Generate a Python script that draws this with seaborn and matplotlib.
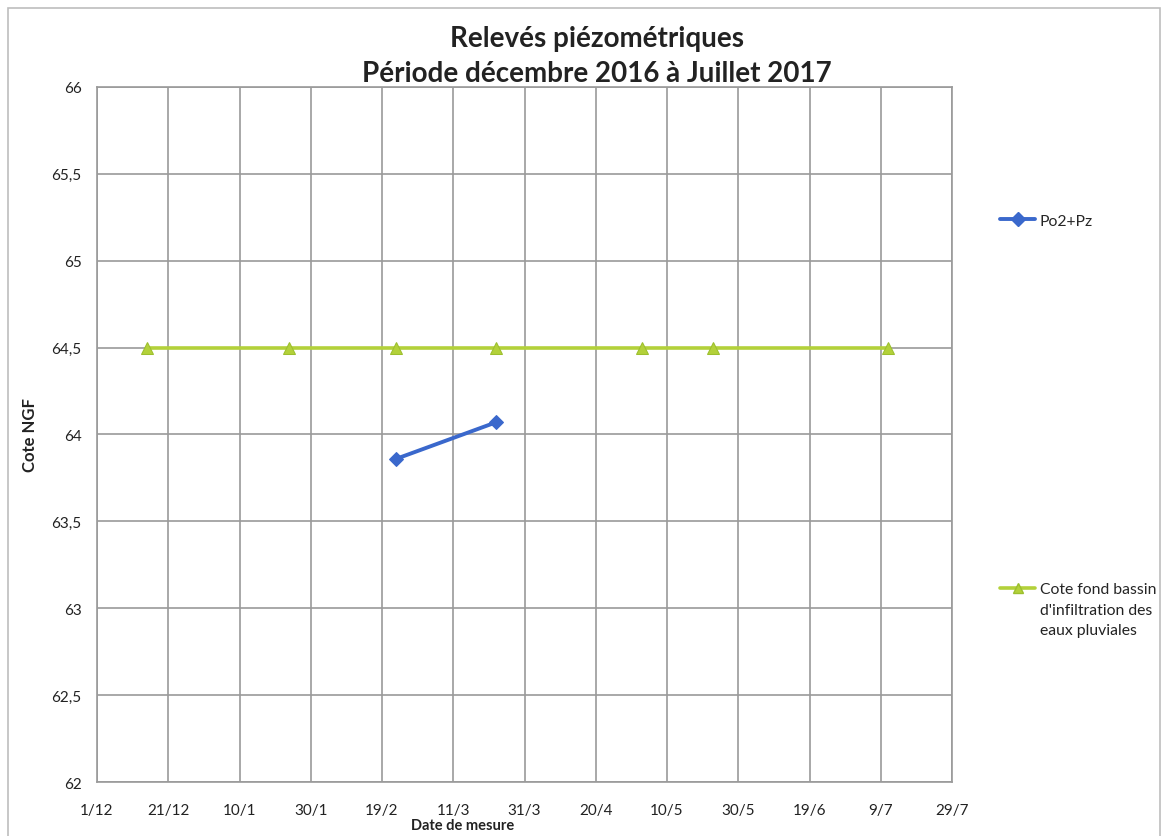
import pandas as pd
import matplotlib.pyplot as plt
from matplotlib.lines import Line2D
from matplotlib.patches import Rectangle
import seaborn as sns

# data
fond_dates = ["2016-12-15", "2017-01-24", "2017-02-23", "2017-03-23",
              "2017-05-03", "2017-05-23", "2017-07-11"]
fond_values = [64.5, 64.5, 64.5, 64.5, 64.5, 64.5, 64.5]

po2_dates = ["2017-02-23", "2017-03-23"]
po2_values = [63.86, 64.07]

tick_dates = pd.date_range("2016-12-01", "2017-07-29", freq="20D")
tick_labels = ["1/12", "21/12", "10/1", "30/1", "19/2", "11/3", "31/3",
               "20/4", "10/5", "30/5", "19/6", "9/7", "29/7"]
y_ticks = [62, 62.5, 63, 63.5, 64, 64.5, 65, 65.5, 66]

blue = "#3A68CC"
green = "#B3D13A"
grid_col = "#9a9a9a"

df_fond = pd.DataFrame({"date": pd.to_datetime(fond_dates), "cote": fond_values})
df_po2 = pd.DataFrame({"date": pd.to_datetime(po2_dates), "cote": po2_values})

sns.set_style("white")
plt.rcParams["font.family"] = ["Lato", "DejaVu Sans"]

fig = plt.figure(figsize=(11.63, 8.37), dpi=100)
ax = fig.add_axes([0.0834, 0.0645, 0.7352, 0.8304])

sns.lineplot(data=df_fond, x="date", y="cote", ax=ax, color=green, lw=2.6,
             marker="^", markersize=8, markeredgecolor="#9CBF2E")
sns.lineplot(data=df_po2, x="date", y="cote", ax=ax, color=blue, lw=2.8,
             marker="D", markersize=7, markeredgecolor=blue)

ax.set_xlim(tick_dates[0], tick_dates[-1])
ax.set_ylim(62, 66)
ax.set_xticks(tick_dates)
ax.set_xticklabels(tick_labels)
ax.set_yticks(y_ticks)
ax.set_yticklabels([f"{v:g}".replace(".", ",") for v in y_ticks])
ax.tick_params(axis="both", labelsize=11, length=5, width=1, color=grid_col,
               direction="out", pad=6, labelcolor="#222222")
ax.tick_params(axis="x", pad=10)
ax.grid(True, color=grid_col, lw=1.2)
ax.set_axisbelow(True)
for s in ax.spines.values():
    s.set_color(grid_col)
    s.set_linewidth(1.2)

ax.set_xlabel("Date de mesure", fontsize=10.5, fontweight="bold", color="#222222")
ax.xaxis.set_label_coords(0.428, -0.052)
ax.set_ylabel("Cote NGF", fontsize=12, fontweight="bold", color="#222222")
ax.yaxis.set_label_coords(-0.069, 0.5)

fig.text(0.513, 0.953, "Relevés piézométriques", ha="center", va="center",
         fontsize=20, fontweight="bold", color="#222222")
fig.text(0.513, 0.911, "Période décembre 2016 à Juillet 2017", ha="center",
         va="center", fontsize=20, fontweight="bold", color="#222222")

h1 = Line2D([], [], color=blue, lw=2.8, marker="D", markersize=7)
h2 = Line2D([], [], color=green, lw=2.6, marker="^", markersize=7,
            markeredgecolor="#9CBF2E")
leg1 = fig.legend([h1], ["Po2+Pz"], loc="center left",
                  bbox_to_anchor=(0.848, 0.735), frameon=False, fontsize=11.3,
                  handlelength=2.2, handletextpad=0.3)
leg2 = fig.legend([h2], ["Cote fond bassin"], loc="center left",
                  bbox_to_anchor=(0.848, 0.295), frameon=False, fontsize=11.3,
                  handlelength=2.2, handletextpad=0.3)

fig.canvas.draw()
bb = leg2.get_texts()[0].get_window_extent().transformed(fig.transFigure.inverted())
fig.text(bb.x0, bb.y0 - 0.008, "d'infiltration des\neaux pluviales", ha="left",
         va="top", fontsize=11.3, linespacing=1.55, color="#222222")

fig.patches.append(Rectangle((0.007, -0.02), 0.99, 1.009, transform=fig.transFigure,
                             fill=False, edgecolor="#bdbdbd", lw=1.2))

plt.savefig("out.png", dpi=100)
